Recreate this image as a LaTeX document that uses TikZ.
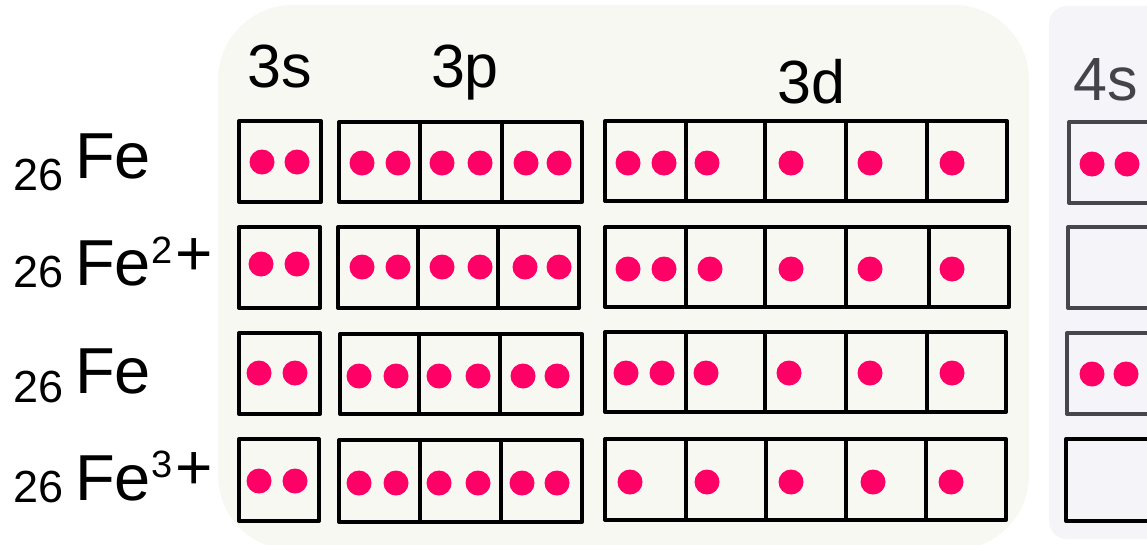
\documentclass[tikz,border=0pt]{standalone}
\usepackage{fontspec}
\setmainfont{Liberation Sans}
\definecolor{panelA}{HTML}{F8F8F3}
\definecolor{panelB}{HTML}{F5F4F9}
\definecolor{dotc}{HTML}{FF0066}
\definecolor{graybox}{HTML}{48464C}
\definecolor{graytext}{HTML}{444349}
\begin{document}
\begin{tikzpicture}[x=1pt,y=-1pt,
  box/.style={draw=black,line width=4pt,line join=round},
  gbox/.style={draw=graybox,line width=4pt,line join=round},
  dot/.style={fill=dotc},
  lbl/.style={inner sep=0pt,anchor=base,font=\fontsize{61}{61}\selectfont},
  znum/.style={inner sep=0pt,anchor=base west,font=\fontsize{45}{45}\selectfont},
  elem/.style={inner sep=0pt,anchor=base west,font=\fontsize{65}{65}\selectfont},
  chg/.style={inner sep=0pt,anchor=base west,font=\fontsize{38}{38}\selectfont},
  plus/.style={inner sep=0pt,anchor=base west,font=\fontsize{64}{64}\selectfont}]
\useasboundingbox (0,0) rectangle (1147,544);
\clip (0,0) rectangle (1147,544);
\fill[white] (0,0) rectangle (1147,544);
% panels
\fill[panelA,rounded corners=75pt] (218,5) rectangle (1029,550);
\fill[panelB,rounded corners=18pt] (1049,6) rectangle (1200,539);
% headings
\node[lbl] (l3s) at (280,87) {3s};
\node[lbl] (l3p) at (465,87) {3p};
\node[lbl] (l3d) at (811,103) {3d};
\node[lbl,text=graytext] (l4s) at (1106,100) {4s};
% element labels
\node[znum] (z1) at (13,190) {26};
\node[elem] (fe1) at (75,178) {Fe};
\node[znum] (z2) at (13,287) {26};
\node[elem] (fe2) at (75,285) {Fe};
\node[chg] (c2) at (151.5,263) {2};
\node[plus] (p2) at (175,275) {+};
\node[znum] (z3) at (13,402) {26};
\node[elem] (fe3) at (75,393) {Fe};
\node[znum] (z4) at (13,502) {26};
\node[elem] (fe4) at (75,500) {Fe};
\node[chg] (c4) at (151.5,477) {3};
\node[plus] (p4) at (175,489) {+};
% row 1 boxes
\draw[box] (239,121) rectangle (321,202);
\foreach \a/\b in {339/420,420/502,502/582} \draw[box] (\a,122) rectangle (\b,202);
\foreach \a/\b in {605/686,686/765,765/846,846/927,927/1007} \draw[box] (\a,121) rectangle (\b,201);
\draw[gbox] (1069,122) rectangle (1152,203);
% row 2 boxes
\draw[box] (239,227) rectangle (320,308);
\foreach \a/\b in {338/418,418/498,498/579} \draw[box] (\a,227) rectangle (\b,308);
\foreach \a/\b in {605/686,686/765,765/846,846/929,929/1009} \draw[box] (\a,227) rectangle (\b,307);
\draw[gbox] (1068,227) rectangle (1152,308);
% row 3 boxes
\draw[box] (239,333) rectangle (320,414);
\foreach \a/\b in {340/419,419/500,500/582} \draw[box] (\a,334) rectangle (\b,414);
\foreach \a/\b in {605/686,686/765,765/846,846/927,927/1006} \draw[box] (\a,332) rectangle (\b,412);
\draw[gbox] (1067,333) rectangle (1152,414);
% row 4 boxes
\draw[box] (239,439) rectangle (319,521);
\foreach \a/\b in {339/420,420/501,501/582} \draw[box] (\a,440) rectangle (\b,522);
\foreach \a/\b in {605/686,686/766,766/846,846/926,926/1006} \draw[box] (\a,439) rectangle (\b,520);
\draw[box] (1066,439) rectangle (1152,521);
% dots row 1
\foreach \x in {262,297} \fill[dot] (\x,162) circle[radius=12.5pt];
\foreach \x in {362,398,442,480,526,559} \fill[dot] (\x,163) circle[radius=12.5pt];
\foreach \x in {628,664,707,791,870,952} \fill[dot] (\x,163) circle[radius=12.5pt];
\foreach \x in {1092,1127} \fill[dot] (\x,164) circle[radius=12.5pt];
% dots row 2
\foreach \x in {261,297} \fill[dot] (\x,264) circle[radius=12.5pt];
\foreach \x in {362,398,442,480,525,559} \fill[dot] (\x,267) circle[radius=12.5pt];
\foreach \x in {628,664,710,791,870,952} \fill[dot] (\x,269) circle[radius=12.5pt];
% dots row 3
\foreach \x in {259,295} \fill[dot] (\x,373) circle[radius=12.5pt];
\foreach \x in {359,396,439,478,523,557} \fill[dot] (\x,376) circle[radius=12.5pt];
\foreach \x in {626,662,706,789,870,952} \fill[dot] (\x,373) circle[radius=12.5pt];
\foreach \x in {1092,1126} \fill[dot] (\x,374) circle[radius=12.5pt];
% dots row 4
\foreach \x in {259,295} \fill[dot] (\x,481) circle[radius=12.5pt];
\foreach \x in {359,396,439,478,522,557} \fill[dot] (\x,483) circle[radius=12.5pt];
\foreach \x in {630,707,791,873,951} \fill[dot] (\x,482) circle[radius=12.5pt];
\end{tikzpicture}
\end{document}
